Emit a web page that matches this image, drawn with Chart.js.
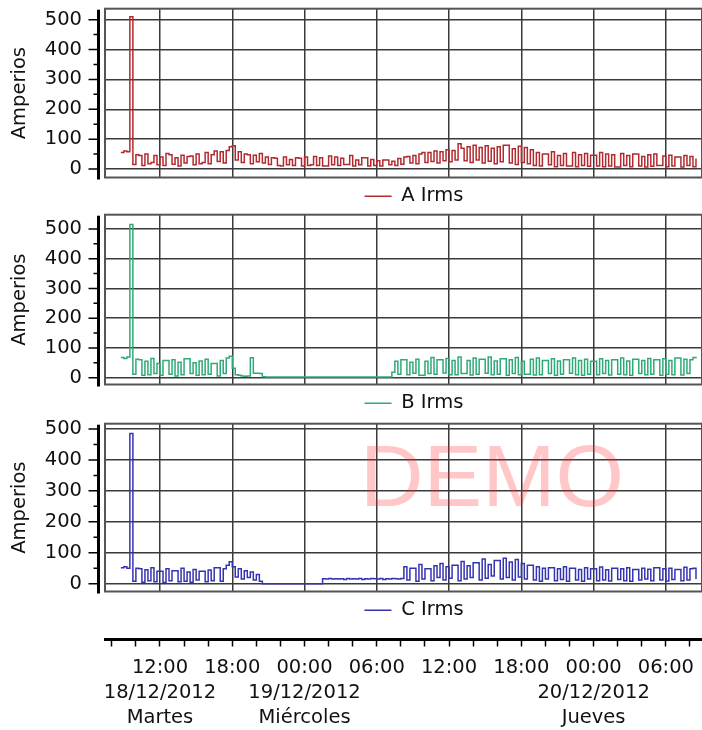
<!DOCTYPE html>
<html><head><meta charset="utf-8">
<script src="https://cdn.jsdelivr.net/npm/chart.js@4.4.1/dist/chart.umd.min.js"></script>
<style>
html,body{margin:0;padding:0;background:#fff;overflow:hidden;width:702px;height:730px;}
canvas{position:absolute;left:0;}
</style></head><body>
<canvas id="cA" width="702" height="242" style="top:-26px"></canvas>
<canvas id="cB" width="702" height="243" style="top:180px"></canvas>
<canvas id="cC" width="702" height="241" style="top:389px"></canvas>
<canvas id="cX" width="702" height="200" style="top:540px"></canvas>
<script>
// ---- data (hours counted from 00:00 18/12/2012, one sample every 15 min) ----
const startHour = 8.75;
const stepHours = 0.25;
const xMin = 7.435;
const xMax = 57;

const aIrms = [
  55, 60, 58, 510, 15, 48, 45, 12, 50, 18, 22, 45,
  14, 40, 12, 52, 48, 16, 38, 10, 46, 20, 42, 44,
  14, 50, 18, 22, 55, 18, 48, 60, 25, 58, 20, 62,
  75, 78, 30, 58, 22, 50, 48, 18, 46, 24, 52, 20,
  40, 15, 38, 36, 12, 10, 40, 14, 32, 12, 38, 36,
  10, 40, 12, 14, 42, 12, 38, 10, 10, 44, 14, 40,
  12, 36, 15, 15, 45, 10, 30, 14, 38, 38, 10, 32,
  12, 28, 10, 30, 30, 14, 26, 12, 35, 16, 40, 42,
  20, 45, 18, 50, 55, 22, 55, 25, 60, 20, 58, 28,
  65, 24, 62, 30, 85, 70, 28, 75, 22, 80, 30, 72,
  20, 78, 26, 70, 18, 75, 24, 80, 80, 20, 68, 15,
  76, 22, 72, 18, 65, 12, 55, 10, 50, 50, 14, 58,
  8, 45, 12, 52, 10, 10, 55, 8, 48, 12, 52, 9,
  46, 46, 10, 55, 8, 50, 10, 48, 7, 7, 52, 12,
  45, 8, 50, 50, 10, 42, 7, 48, 9, 50, 12, 12,
  44, 8, 46, 10, 40, 40, 7, 45, 12, 42, 8, 35
];
const bIrms = [
  68, 65, 70, 515, 12, 62, 60, 8, 55, 10, 65, 14,
  48, 8, 58, 58, 12, 60, 6, 52, 10, 64, 64, 14,
  50, 8, 56, 10, 62, 12, 48, 48, 6, 58, 14, 66,
  72, 32, 10, 8, 6, 5, 6, 67, 15, 15, 14, 3,
  2, 2, 2, 2, 2, 2, 2, 2, 2, 2, 2, 2,
  2, 2, 2, 2, 2, 2, 2, 2, 2, 2, 2, 2,
  2, 2, 2, 2, 2, 2, 2, 2, 2, 2, 2, 2,
  2, 2, 2, 2, 2, 2, 18, 55, 12, 60, 60, 10,
  52, 15, 62, 8, 8, 55, 14, 68, 12, 60, 60, 16,
  65, 10, 58, 10, 70, 14, 14, 58, 9, 66, 12, 62,
  62, 15, 70, 10, 56, 12, 64, 64, 8, 60, 14, 68,
  10, 55, 12, 12, 62, 9, 66, 10, 58, 58, 14, 64,
  8, 56, 12, 60, 60, 15, 66, 10, 58, 8, 62, 12,
  55, 55, 10, 64, 14, 58, 9, 60, 60, 12, 66, 10,
  56, 8, 62, 62, 14, 58, 10, 65, 12, 60, 60, 8,
  64, 12, 58, 10, 66, 66, 9, 62, 14, 60, 68, 65
];
const cIrms = [
  52, 55, 50, 485, 8, 50, 48, 5, 45, 10, 52, 6,
  40, 40, 4, 48, 10, 42, 42, 6, 50, 8, 38, 5,
  46, 12, 40, 40, 6, 44, 10, 52, 52, 8, 48, 60,
  71, 55, 22, 48, 15, 42, 20, 38, 12, 30, 8, 0,
  0, 0, 0, 0, 0, 0, 0, 0, 0, 0, 0, 0,
  0, 0, 0, 0, 0, 0, 0, 16, 15, 17, 15, 16,
  15, 16, 14, 17, 15, 16, 15, 17, 14, 16, 15, 17,
  16, 15, 17, 14, 16, 15, 17, 16, 15, 17, 55, 12,
  50, 50, 8, 62, 15, 48, 48, 10, 58, 20, 65, 12,
  55, 18, 60, 60, 10, 72, 15, 58, 20, 68, 68, 12,
  80, 18, 62, 25, 75, 75, 15, 82, 20, 70, 12, 78,
  22, 65, 15, 60, 60, 12, 55, 8, 50, 15, 52, 52,
  10, 48, 14, 55, 8, 50, 50, 12, 46, 8, 52, 15,
  48, 48, 10, 54, 12, 45, 9, 50, 50, 14, 48, 10,
  52, 8, 46, 46, 12, 50, 15, 47, 10, 52, 52, 12,
  48, 9, 50, 14, 46, 46, 10, 53, 12, 48, 50, 15
];

const yTicks = [0, 100, 200, 300, 400, 500];
const yMinorTicks = [50, 150, 250, 350, 450];
const gridHours = [12, 18, 24, 30, 36, 42, 48, 54];
const axisTickHours = [8, 10, 12, 14, 16, 18, 20, 22, 24, 26, 28, 30, 32, 34, 36, 38, 40, 42, 44, 46, 48, 50, 52, 54, 56];
const labelHours = [12, 18, 24, 30, 36, 42, 48, 54];
const timeLabels = ['12:00', '18:00', '00:00', '06:00', '12:00', '18:00', '00:00', '06:00'];
const dateLabels = ['18/12/2012', '', '19/12/2012', '', '', '', '20/12/2012', ''];
const dayLabels = ['Martes', '', 'Miércoles', '', '', '', 'Jueves', ''];

// ---- styling ----
const FONT = '"DejaVu Sans", sans-serif';
Chart.defaults.font.family = FONT;
Chart.defaults.font.size = 19.5;
Chart.defaults.color = '#111';
const gridColor = '#3a3a3a';

function toPoints(values) {
  return values.map((v, i) => ({ x: startHour + i * stepHours, y: v }));
}

const axisDeco = {
  id: 'axisDeco',
  afterDraw(chart) {
    const { ctx, chartArea: a } = chart;
    const y = chart.scales.y;
    const ax = a.left - 6.5;
    ctx.save();
    ctx.strokeStyle = '#555';
    ctx.lineWidth = 2;
    ctx.strokeRect(a.left, a.top, a.right - a.left, a.bottom - a.top);
    ctx.strokeStyle = '#000';
    ctx.lineWidth = 3;
    ctx.beginPath();
    ctx.moveTo(ax, a.top + 1);
    ctx.lineTo(ax, a.bottom + 2);
    ctx.stroke();
    ctx.lineWidth = 1.5;
    ctx.beginPath();
    yTicks.forEach(v => { const p = y.getPixelForValue(v); ctx.moveTo(ax - 10, p); ctx.lineTo(ax, p); });
    yMinorTicks.forEach(v => { const p = y.getPixelForValue(v); ctx.moveTo(ax - 5, p); ctx.lineTo(ax, p); });
    ctx.stroke();
    ctx.restore();
  }
};

const legendShift = {
  id: 'legendShift',
  afterLayout(chart) {
    const lg = chart.legend;
    if (lg) { lg.left += 63; lg.right += 63; }
  }
};

const demoMark = {
  id: 'demoMark',
  afterDatasetsDraw(chart) {
    const ctx = chart.ctx;
    ctx.save();
    ctx.font = '88px "Liberation Sans", Arial, sans-serif';
    ctx.fillStyle = 'rgba(255, 40, 40, 0.26)';
    ctx.textBaseline = 'alphabetic';
    ctx.fillText('DEMO', 360, 117);
    ctx.restore();
  }
};

function panel(id, label, values, color, yMin, yMax, extra) {
  return new Chart(document.getElementById(id), {
    type: 'line',
    data: {
      datasets: [{
        label: label,
        data: toPoints(values),
        borderColor: color,
        backgroundColor: color,
        borderWidth: 1.5,
        pointRadius: 0,
        stepped: 'before',
        fill: false
      }]
    },
    options: {
      responsive: false,
      animation: false,
      devicePixelRatio: 1,
      events: [],
      layout: { padding: { top: 20, left: 0, right: 0, bottom: 0 } },
      scales: {
        x: {
          type: 'linear', min: xMin, max: xMax,
          afterBuildTicks: s => { s.ticks = gridHours.map(v => ({ value: v })); },
          ticks: { display: false },
          grid: { color: gridColor, lineWidth: 1.5, drawTicks: false },
          border: { display: false }
        },
        y: {
          min: yMin, max: yMax,
          afterBuildTicks: s => { s.ticks = yTicks.map(v => ({ value: v })); },
          afterFit: s => { s.width = 105; },
          ticks: { color: '#111', padding: 23 },
          grid: { color: gridColor, lineWidth: 1.5, drawTicks: false },
          border: { display: false },
          title: { display: true, text: 'Amperios', color: '#111', padding: { top: 8, bottom: 0 } }
        }
      },
      plugins: {
        legend: {
          position: 'bottom',
          labels: { usePointStyle: true, pointStyle: 'line', pointStyleWidth: 27, padding: 9, color: '#111' }
        },
        tooltip: { enabled: false }
      }
    },
    plugins: [axisDeco, legendShift].concat(extra || [])
  });
}

panel('cA', 'A Irms', aIrms, '#b22a2f', -28.3, 536.7);
panel('cB', 'B Irms', bIrms, '#2eaa78', -22.8, 547.9);
panel('cC', 'C Irms', cIrms, '#3434b0', -25.1, 517, [demoMark]);

// ---- shared time axis ----
new Chart(document.getElementById('cX'), {
  type: 'line',
  data: { datasets: [] },
  options: {
    responsive: false,
    animation: false,
    devicePixelRatio: 1,
    events: [],
    layout: { padding: { top: 0, left: 105, right: 0, bottom: 1 } },
    scales: {
      x: {
        type: 'linear', position: 'bottom', min: xMin, max: xMax,
        afterBuildTicks: s => { s.ticks = axisTickHours.map(v => ({ value: v })); },
        ticks: {
          autoSkip: false, maxRotation: 0, minRotation: 0, padding: 9, color: '#111',
          font: { size: 19.5, lineHeight: 1.28 },
          callback: v => {
            const k = labelHours.indexOf(v);
            if (k < 0) return '';
            const lines = [timeLabels[k]];
            if (dateLabels[k]) { lines.push(dateLabels[k]); lines.push(dayLabels[k]); }
            return lines;
          }
        },
        grid: { drawOnChartArea: false, drawTicks: true, tickLength: 7, tickWidth: 1.5, tickColor: '#000' },
        border: { display: true, color: '#000', width: 3 }
      },
      y: { display: false, min: 0, max: 1 }
    },
    plugins: { legend: { display: false }, tooltip: { enabled: false } }
  }
});
</script>
</body></html>
